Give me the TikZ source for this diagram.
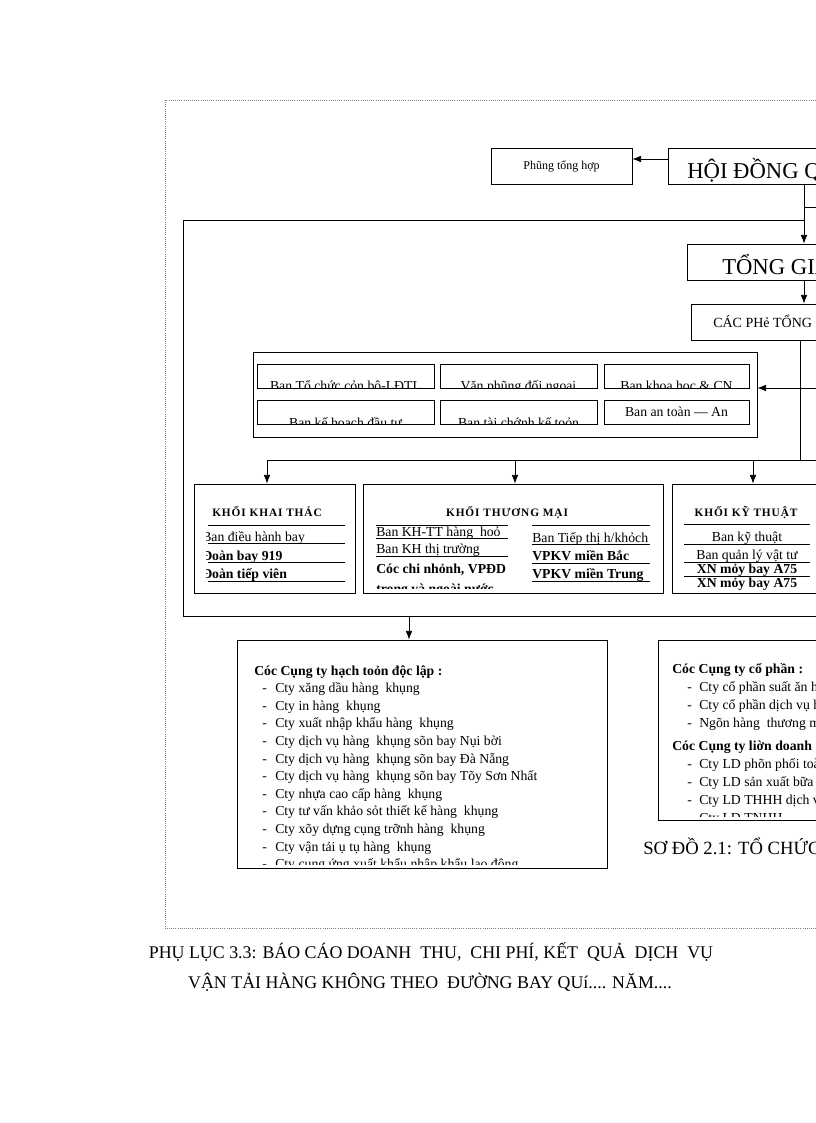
\documentclass[tikz,border=0pt]{standalone}
\usepackage{fontspec}
\setmainfont{Liberation Serif}
\usepackage{tikz}
\usetikzlibrary{arrows.meta,positioning,fit}

\tikzset{
  box/.style={draw, line width=0.6pt, inner sep=0pt},
  rowtext/.style={anchor=base west, inner sep=0pt, font=\fontsize{10.3}{12}\selectfont},
  rowbold/.style={rowtext, font=\fontsize{10.3}{12}\selectfont\bfseries},
  khoititle/.style={anchor=base, inner sep=0pt, font=\fontsize{8.5}{10}\selectfont\bfseries\addfontfeatures{LetterSpace=8}},
  rulel/.style={line width=0.5pt},
  link/.style={line width=0.6pt, -{Latex[length=6.5pt,width=5pt]}},
}

\begin{document}
\begin{tikzpicture}[x=0.75pt, y=-0.75pt]
    \useasboundingbox (0,0) rectangle (816,1123);
    \clip (0,0) rectangle (816,1123);

    % dotted frame of the page figure
    \draw[gray, densely dotted, line width=0.6pt] (165,100) rectangle (840,928);

    % board, general director, deputies
    \node[box, fit={(668,148) (860,184)}] (hdqt) {};
    \node[anchor=base west, inner sep=0pt, font=\fontsize{17}{19}\selectfont] (hdqt-t) at (687,179) {HỘI ĐỒNG QUẢN TRỊ};
    \node[box, fit={(491,148) (632,184)}] (phong) {};
    \node[inner sep=0pt, font=\fontsize{9}{11}\selectfont] (phong-t) at (phong) {Phũng tổng hợp};
    \draw[link] ([yshift=5.25pt]hdqt.west) -- ([yshift=5.25pt]phong.east);

    \coordinate (spine) at (804,0);
    \node[box, fit={(687,244) (860,280)}] (tgd) {};
    \node[anchor=base west, inner sep=0pt, font=\fontsize{17}{19}\selectfont] (tgd-t) at (722,274) {TỔNG GIÁM ĐỐC};
    \node[box, fit={(691,304) (860,340)}] (ptgd) {};
    \node[anchor=base west, inner sep=0pt, font=\fontsize{10.5}{12}\selectfont] (ptgd-t) at (713,327) {CÁC PHẻ TỔNG GIÁM ĐỐC};
    \draw[link] (hdqt.south -| spine) -- (tgd.north -| spine);
    \draw[link] (tgd.south -| spine) -- (ptgd.north -| spine);
    \coordinate (hdqtright) at (840,207);
    \draw[line width=0.6pt] (spine |- hdqtright) -- (hdqtright);

    % inner frame
    \draw[line width=0.6pt] (spine |- 0,220) -- (183,220) -- (183,616) -- (840,616);

    % functional boards
    \node[box, fit={(253,352) (757,437)}] (bangroup) {};
    \foreach \bname/\xa/\ya/\xb/\yb/\by/\btext in {
        ban1/257/364/434/388/390/{Ban Tổ chức cỏn bộ-LĐTL},
        ban2/440/364/597/388/390/{Văn phũng đối ngoại},
        ban3/604/364/749/388/390/{Ban khoa học \& CN},
        ban4/257/400/434/424/427/{Ban kế hoạch đầu tư},
        ban5/440/400/597/424/427/{Ban tài chớnh kế toỏn},
        ban6/604/400/749/424/416/{Ban an toàn — An}}
    {
        \node[box, fit={(\xa,\ya) (\xb,\yb)}] (\bname) {};
        \begin{scope}
            \clip (\bname.south west) rectangle (\bname.north east);
            \node[rowtext, anchor=base] (\bname-t) at ({(\xa+\xb)/2},\by) {\btext};
        \end{scope}
    }
    \coordinate (banright) at (840,388);
    \draw[link] (banright) -- (bangroup.east |- banright);

    % blocks
    \node[box, fit={(194,484) (355,593)}] (khaithac) {};
    \node[box, fit={(363,484) (663,593)}] (thuongmai) {};
    \node[box, fit={(672,484) (822,593)}] (kythuat) {};

    \coordinate (busleft) at (267,460);
    \coordinate (busmid) at (515,460);
    \coordinate (busright) at (753,460);
    \coordinate (busend) at (840,460);
    \draw[line width=0.6pt] (ptgd.south -| 800,0) -- (800,460);
    \draw[line width=0.6pt] (busleft) -- (busend);
    \draw[link] (busleft) -- (busleft |- khaithac.north);
    \draw[link] (busmid) -- (busmid |- thuongmai.north);
    \draw[link] (busright) -- (busright |- kythuat.north);

    \node[khoititle] (khaithac-t) at (267,516) {KHỐI KHAI THÁC};
    \foreach \ry in {525,543,562,581} \draw[rulel] (208,\ry) -- (345,\ry);
    \begin{scope}
        \clip (206,484) rectangle (355,593);
        \node[rowtext] (khaithac-1) at (202,541) {Ban điều hành bay};
        \node[rowbold] (khaithac-2) at (202,560) {Đoàn bay 919};
        \node[rowbold] (khaithac-3) at (202,578) {Đoàn tiếp viên};
    \end{scope}

    \node[khoititle] (thuongmai-t) at (507,516) {KHỐI THƯƠNG MẠI};
    \foreach \ry in {525,538,556} \draw[rulel] (376,\ry) -- (508,\ry);
    \foreach \ry in {525,544,563,581} \draw[rulel] (532,\ry) -- (650,\ry);
    \begin{scope}
        \clip (363,484) rectangle (663,588);
        \node[rowtext] (thuongmai-1) at (376,536) {Ban KH-TT hàng\ \ hoỏ};
        \node[rowtext] (thuongmai-2) at (376,553) {Ban KH thị trường};
        \node[rowbold] (thuongmai-3) at (376,573) {Cóc chi nhỏnh, VPĐD};
        \node[rowbold] (thuongmai-4) at (376,593) {trong và ngoài nước};
        \node[rowtext] (thuongmai-5) at (532,542) {Ban Tiếp thị h/khỏch};
        \node[rowbold] (thuongmai-6) at (532,560) {VPKV miền Bắc};
        \node[rowbold] (thuongmai-7) at (532,578) {VPKV miền Trung};
    \end{scope}

    \node[khoititle] (kythuat-t) at (746,516) {KHỐI KỸ THUẬT};
    \foreach \ry in {524,544,562,576} \draw[rulel] (684,\ry) -- (810,\ry);
    \node[rowtext, anchor=base] (kythuat-1) at (747,541) {Ban kỹ thuật};
    \node[rowtext, anchor=base] (kythuat-2) at (747,559) {Ban quản lý vật tư};
    \node[rowbold, anchor=base] (kythuat-3) at (747,573) {XN mỏy bay A75};
    \node[rowbold, anchor=base] (kythuat-4) at (747,587) {XN mỏy bay A75};

    % companies
    \node[box, fit={(237,640) (607,868)}] (ctyhtdl) {};
    \node[box, fit={(658,640) (840,820)}] (ctycp) {};
    \coordinate (down) at (409,616);
    \draw[link] (down) -- (down |- ctyhtdl.north);

    \node[rowbold] (ctyhtdl-h) at (254,675) {Cóc Cụng ty hạch toỏn độc lập :};
    \begin{scope}
        \clip (237,640) rectangle (607,864);
        \foreach \ctext [count=\i] in {
            {Cty xăng dầu hàng\ \ khụng},
            {Cty in hàng\ \ khụng},
            {Cty xuất nhập khẩu hàng\ \ khụng},
            {Cty dịch vụ hàng\ \ khụng sõn bay Nụi bời},
            {Cty dịch vụ hàng\ \ khụng sõn bay Đà Nẵng},
            {Cty dịch vụ hàng\ \ khụng sõn bay Tõy Sơn Nhất},
            {Cty nhựa cao cấp hàng\ \ khụng},
            {Cty tư vấn khảo sỏt thiết kế hàng\ \ khụng},
            {Cty xõy dựng cụng trỡnh hàng\ \ khụng},
            {Cty vận tải ụ tụ hàng\ \ khụng},
            {Cty cung ứng xuất khẩu nhập khẩu lao động}}
        {
            \node[rowtext] (ctyhtdl-d\i) at (262,{675+17.6*\i}) {-};
            \node[rowtext] (ctyhtdl-\i) at (275,{675+17.6*\i}) {\ctext};
        }
    \end{scope}

    \begin{scope}
        \clip (658,640) rectangle (816,816);
        \node[rowbold] (ctycp-h) at (672,673) {Cóc Cụng ty cổ phần :};
        \foreach \ctext/\cy [count=\i] in {
            {Cty cổ phần suất ăn hàng khụng}/691,
            {Cty cổ phần dịch vụ hàng khụng}/709,
            {Ngõn hàng\ \ thương mại cổ phần}/727}
        {
            \node[rowtext] (ctycp-d\i) at (687,\cy) {-};
            \node[rowtext] (ctycp-\i) at (699,\cy) {\ctext};
        }
        \node[rowbold] (ctyld-h) at (672,750) {Cóc Cụng ty liờn doanh :};
        \foreach \ctext/\cy [count=\i] in {
            {Cty LD phõn phối toàn cầu}/768,
            {Cty LD sản xuất bữa ăn}/786,
            {Cty LD THHH dịch vụ}/804,
            {Cty LD TNHH}/822}
        {
            \node[rowtext] (ctyld-d\i) at (687,\cy) {-};
            \node[rowtext] (ctyld-\i) at (699,\cy) {\ctext};
        }
    \end{scope}

    \node[anchor=base west, inner sep=0pt, font=\fontsize{14}{16}\selectfont] (sodo) at (643,854) {SƠ ĐỒ 2.1: TỔ CHỨC BỘ MÁY};

    % appendix caption
    \node[anchor=base, inner sep=0pt, font=\fontsize{13.4}{15}\selectfont] (phuluc1) at (431,958) {PHỤ LỤC 3.3: BÁO CÁO DOANH\ \ THU,\ \ CHI PHÍ, KẾT\ \ QUẢ\ \ DỊCH\ \ VỤ};
    \node[anchor=base, inner sep=0pt, font=\fontsize{13.4}{15}\selectfont] (phuluc2) at (430,988) {VẬN TẢI HÀNG KHÔNG THEO\ \ ĐƯỜNG BAY QUí.... NĂM....};
\end{tikzpicture}
\end{document}
